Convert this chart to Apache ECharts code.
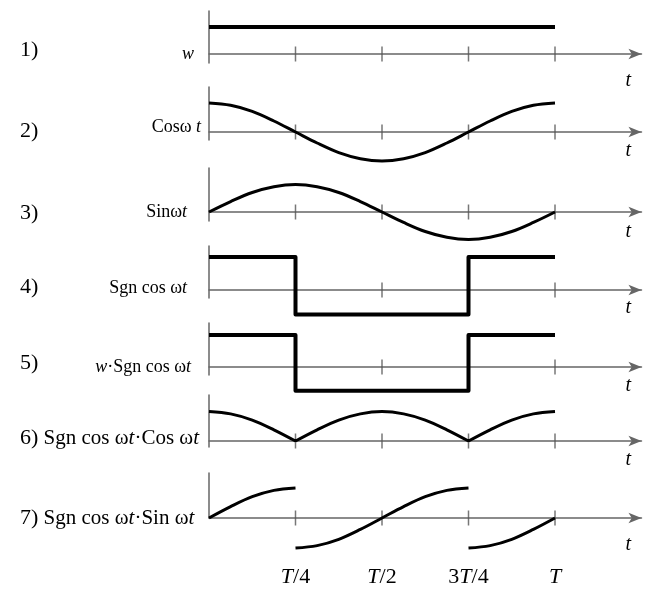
<!DOCTYPE html>
<html>
<head>
<meta charset="utf-8">
</head>
<body style="margin:0; background:#fff">
<div id="main" style="width:648px; height:599px"></div>
<script src="https://cdn.jsdelivr.net/npm/echarts@6/dist/echarts.min.js"></script>
<script>
// time samples, in fractions of the period T
var tGrid = [0, 0.0625, 0.125, 0.1875, 0.25, 0.3125, 0.375, 0.4375, 0.5,
             0.5625, 0.625, 0.6875, 0.75, 0.8125, 0.875, 0.9375, 1];
var cosVals = [1, 0.92, 0.71, 0.38, 0, -0.38, -0.71, -0.92, -1,
               -0.92, -0.71, -0.38, 0, 0.38, 0.71, 0.92, 1];
var sinVals = [0, 0.38, 0.71, 0.92, 1, 0.92, 0.71, 0.38, 0,
               -0.38, -0.71, -0.92, -1, -0.92, -0.71, -0.38, 0];
var absCosVals = [1, 0.92, 0.71, 0.38, 0, 0.38, 0.71, 0.92, 1,
                  0.92, 0.71, 0.38, 0, 0.38, 0.71, 0.92, 1];

var wT = [0, 1];
var wVals = [1, 1];

var sqT = [0, 0.25, 0.25, 0.75, 0.75, 1];
var sqVals = [1, 1, -0.74, -0.74, 1, 1];

// sgn(cos)*sin, three pieces
var seg1T = [0, 0.0625, 0.125, 0.1875, 0.25];
var seg1V = [0, 0.38, 0.71, 0.92, 1];
var seg2T = [0.25, 0.3125, 0.375, 0.4375, 0.5, 0.5625, 0.625, 0.6875, 0.75];
var seg2V = [-1, -0.92, -0.71, -0.38, 0, 0.38, 0.71, 0.92, 1];
var seg3T = [0.75, 0.8125, 0.875, 0.9375, 1];
var seg3V = [-1, -0.92, -0.71, -0.38, 0];

var tickValues = [0.25, 0.5, 0.75, 1];
var tickLabels = ['T/4', 'T/2', '3T/4', 'T'];

var numLabels = ['1)', '2)', '3)', '4)', '5)', '', ''];
var sideLabels = [
  '{i|w}',
  'Cosω {i|t}',
  'Sinω{i|t}',
  'Sgn cos ω{i|t}',
  '{i|w}·Sgn cos ω{i|t}',
  '{n|6)} Sgn cos ω{i|t}·Cos ω{i|t}',
  '{n|7)} Sgn cos ω{i|t}·Sin ω{i|t}'
];

function pairs(ts, vs) {
  return ts.map(function (t, i) { return [t, vs[i]]; });
}
var GAP = [['-', '-']];

var seriesData = [
  pairs(wT, wVals),
  pairs(tGrid, cosVals),
  pairs(tGrid, sinVals),
  pairs(sqT, sqVals),
  pairs(sqT, sqVals),
  // |cos| has sharp corners at T/4 and 3T/4: keep the arcs as separate pieces
  pairs(tGrid.slice(0, 5), absCosVals.slice(0, 5)).concat(GAP,
    pairs(tGrid.slice(4, 13), absCosVals.slice(4, 13)), GAP,
    pairs(tGrid.slice(12), absCosVals.slice(12))),
  pairs(seg1T, seg1V).concat(GAP, pairs(seg2T, seg2V), GAP, pairs(seg3T, seg3V))
];

// layout of each strip (pixels): axis line, top/bottom of the vertical axis, px per unit
var panels = [
  {axis: 54,  top: 11,  bottom: 63,  unit: 27,   width: 4, smooth: false, numY: 50,  labY: 54,  labRight: 194, labSize: 18, tDy: 27},
  {axis: 132, top: 87,  bottom: 140, unit: 29,   width: 3, smooth: 0.35,  numY: 131, labY: 127, labRight: 201, labSize: 18, tDy: 19},
  {axis: 212, top: 168, bottom: 221, unit: 27.5, width: 3, smooth: 0.35,  numY: 213, labY: 212, labRight: 187, labSize: 18, tDy: 20},
  {axis: 290, top: 246, bottom: 298, unit: 33,   width: 4, smooth: false, numY: 287, labY: 288, labRight: 187, labSize: 18, tDy: 18},
  {axis: 367, top: 323, bottom: 375, unit: 32,   width: 4, smooth: false, numY: 363, labY: 367, labRight: 191, labSize: 18, tDy: 19},
  {axis: 441, top: 395, bottom: 447, unit: 29.5, width: 3, smooth: 0.35,  numY: 438, labY: 438, labRight: 0,   labSize: 21, tDy: 19},
  {axis: 518, top: 473, bottom: 518, unit: 30,   width: 3, smooth: 0.35,  numY: 518, labY: 518, labRight: 0,   labSize: 21, tDy: 27}
];

var FONT = 'Liberation Serif';
var AXIS_COLOR = '#666';
var X_LEFT = 209, X_WIDTH = 432.5, X_MAX = 1.25;

var grids = [], xAxes = [], yAxes = [], series = [], titles = [];

panels.forEach(function (p, k) {
  var last = k === panels.length - 1;
  grids.push({left: X_LEFT, width: X_WIDTH, top: p.top, height: p.bottom - p.top});
  xAxes.push({
    gridIndex: k, type: 'value', min: 0, max: X_MAX,
    name: 't', nameLocation: 'end', nameGap: -16,
    nameTextStyle: {fontFamily: FONT, fontStyle: 'italic', fontSize: 20, color: '#000',
                    verticalAlign: 'top', padding: [p.tDy - 10, 0, 0, 0]},
    axisLine: {onZero: true, symbol: ['none', 'arrow'], symbolSize: [8, 13],
               lineStyle: {color: AXIS_COLOR, width: 1.5}},
    axisTick: {show: false},
    splitLine: {show: false},
    axisLabel: {
      show: last, customValues: tickValues, margin: 48,
      fontFamily: FONT, fontSize: 22, color: '#000',
      formatter: function (v) {
        var i = tickValues.indexOf(v);
        return i < 0 ? '' : tickLabels[i].replace('T', '{i|T}');
      },
      rich: {i: {fontFamily: FONT, fontSize: 22, fontStyle: 'italic', color: '#000'}}
    }
  });
  yAxes.push({
    gridIndex: k, type: 'value',
    min: -(p.bottom - p.axis) / p.unit, max: (p.axis - p.top) / p.unit,
    axisLine: {show: true, onZero: false, lineStyle: {color: AXIS_COLOR, width: 1.5}},
    axisTick: {show: false}, axisLabel: {show: false}, splitLine: {show: false}
  });
  // tick marks crossing the time axis
  series.push({
    type: 'scatter', xAxisIndex: k, yAxisIndex: k, silent: true,
    symbol: 'rect', symbolSize: [1.5, 15],
    itemStyle: {color: '#555'},
    data: tickValues.map(function (t) { return [t, 0]; }),
    z: 2
  });
  series.push({
    type: 'line', xAxisIndex: k, yAxisIndex: k, clip: false,
    showSymbol: false, symbol: 'none', connectNulls: false, smooth: p.smooth,
    lineStyle: {color: '#000', width: p.width, join: 'round', cap: 'butt'},
    data: seriesData[k],
    z: 3
  });
  if (numLabels[k]) {
    titles.push({
      text: numLabels[k], left: 20, top: p.numY - 11, padding: 0,
      textStyle: {fontFamily: FONT, fontSize: 22, fontWeight: 'normal', color: '#000', lineHeight: 22}
    });
  }
  var labelTitle = {
    text: sideLabels[k], top: p.labY - 10, padding: 0,
    textStyle: {
      fontFamily: FONT, fontSize: p.labSize, fontWeight: 'normal', color: '#000', lineHeight: 20,
      rich: {
        i: {fontFamily: FONT, fontSize: p.labSize, fontStyle: 'italic', color: '#000'},
        n: {fontFamily: FONT, fontSize: 22, color: '#000'}
      }
    }
  };
  if (p.labRight) {
    labelTitle.right = 648 - p.labRight;
  } else {
    labelTitle.left = 20;
  }
  titles.push(labelTitle);
});

var myChart = echarts.init(document.getElementById('main'));
var option = {
  backgroundColor: '#fff',
  animation: false,
  title: titles,
  grid: grids,
  xAxis: xAxes,
  yAxis: yAxes,
  series: series
};
myChart.setOption(option);
</script>
</body>
</html>
